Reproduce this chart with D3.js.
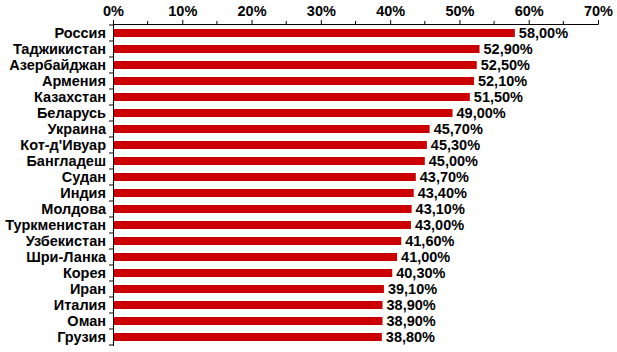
<!DOCTYPE html>
<html>
<head>
<meta charset="utf-8">
<script src="https://cdn.jsdelivr.net/npm/d3@7"></script>
<style>
  body { margin: 0; background: #fff; }
  text { font-family: "Liberation Sans", Arial, sans-serif; font-weight: bold; fill: #000; }
</style>
</head>
<body>
<div id="chart"></div>
<script>
// data
const countries = ["Россия", "Таджикистан", "Азербайджан", "Армения", "Казахстан", "Беларусь",
    "Украина", "Кот-д'Ивуар", "Бангладеш", "Судан", "Индия", "Молдова", "Туркменистан",
    "Узбекистан", "Шри-Ланка", "Корея", "Иран", "Италия", "Оман", "Грузия"]
const values = [58.0, 52.9, 52.5, 52.1, 51.5, 49.0, 45.7, 45.3, 45.0, 43.7, 43.4, 43.1, 43.0,
    41.6, 41.0, 40.3, 39.1, 38.9, 38.9, 38.8]
const tickValues = [0, 10, 20, 30, 40, 50, 60, 70]
const minorTicks = [5, 15, 25, 35, 45, 55, 65]

const width = 617, height = 352
const mLeft = 113, mRight = 598, mTop = 24, mBottom = 345

const svg = d3.select("#chart").append("svg")
    .attr("width", width)
    .attr("height", height)

const x = d3.scaleLinear().domain([0, 70]).range([mLeft, mRight])
const y = d3.scaleBand().domain(countries).range([mTop + 1, mBottom]).paddingInner(0.5).paddingOuter(0.25)

// bars
svg.selectAll(".bar")
    .data(values)
    .enter()
    .append("rect")
    .attr("class", "bar")
    .attr("x", x(0))
    .attr("y", (d, i) => y(countries[i]))
    .attr("width", d => x(d) - x(0))
    .attr("height", y.bandwidth())
    .attr("fill", "#cc0000")

// value labels
svg.selectAll(".val")
    .data(values)
    .enter()
    .append("text")
    .attr("class", "val")
    .attr("x", d => x(d) + 4)
    .attr("y", (d, i) => y(countries[i]) + y.bandwidth() / 2)
    .attr("dy", "0.36em")
    .style("font-size", "14.5px")
    .text(d => d.toFixed(2).replace(".", ",") + "%")

// top axis
const xAxis = d3.axisTop(x)
    .tickValues(tickValues)
    .tickSize(4)
    .tickPadding(4)
    .tickFormat(d => d + "%")
svg.append("g")
    .attr("transform", "translate(0," + mTop + ")")
    .call(xAxis)
    .call(g => g.select(".domain").attr("stroke", "#000"))
    .call(g => g.selectAll("text").style("font-size", "14.5px").attr("font-family", null))

// minor ticks on top axis
svg.append("g").selectAll("line")
    .data(minorTicks)
    .enter()
    .append("line")
    .attr("x1", d => x(d)).attr("x2", d => x(d))
    .attr("y1", mTop - 3).attr("y2", mTop + 1)
    .attr("stroke", "#000")

// left axis line
svg.append("line")
    .attr("x1", mLeft + 0.5).attr("x2", mLeft + 0.5)
    .attr("y1", mTop).attr("y2", mBottom + 1)
    .attr("stroke", "#000")

// left ticks between categories
const step = y.step()
const bounds = countries.map(c => y(c) - (step - y.bandwidth()) / 2).concat([mBottom])
svg.append("g").selectAll("line")
    .data(bounds)
    .enter()
    .append("line")
    .attr("x1", mLeft - 4).attr("x2", mLeft)
    .attr("y1", d => d).attr("y2", d => d)
    .attr("stroke", "#000")

// category labels
svg.selectAll(".cat")
    .data(countries)
    .enter()
    .append("text")
    .attr("class", "cat")
    .attr("x", mLeft - 7)
    .attr("y", d => y(d) + y.bandwidth() / 2)
    .attr("dy", "0.36em")
    .attr("text-anchor", "end")
    .style("font-size", "14.5px")
    .text(d => d)
</script>
</body>
</html>
